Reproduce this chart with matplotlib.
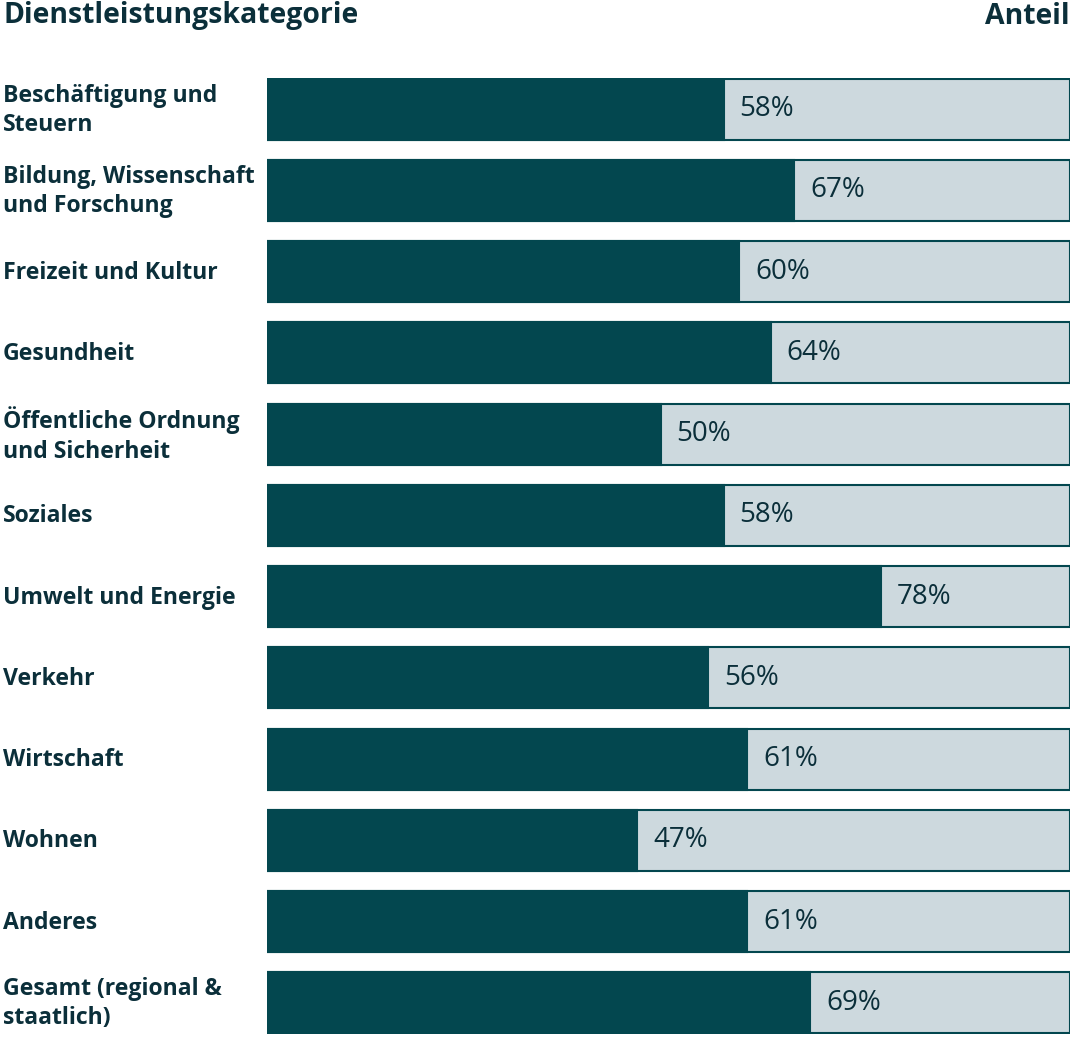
import matplotlib.pyplot as plt
import numpy as np

# Data
categories = [
    "Beschäftigung und\nSteuern",
    "Bildung, Wissenschaft\nund Forschung",
    "Freizeit und Kultur",
    "Gesundheit",
    "Öffentliche Ordnung\nund Sicherheit",
    "Soziales",
    "Umwelt und Energie",
    "Verkehr",
    "Wirtschaft",
    "Wohnen",
    "Anderes",
    "Gesamt (regional &\nstaatlich)",
]
shares = [58, 67, 60, 64, 50, 58, 78, 56, 61, 47, 61, 69]
header_left = "Dienstleistungskategorie"
header_right = "Anteil"

# Style
DARK = "#03474f"
TRACK = "#cdd9de"
TEXT = "#0b2f3a"
TRACK_MAX = 102

plt.rcParams['font.family'] = ['Open Sans', 'DejaVu Sans']

fig = plt.figure(figsize=(10.8, 10.4), dpi=100)
ax = fig.add_axes([267 / 1080, 1 - 1034 / 1040, 803 / 1080, (1034 - 78) / 1040])

y = np.arange(len(categories))
bar_h = 0.75

ax.barh(y, TRACK_MAX, height=bar_h, color=TRACK, edgecolor=DARK, linewidth=1.5, zorder=1)
ax.barh(y, shares, height=bar_h, color=DARK, edgecolor=DARK, linewidth=1.5, zorder=2)

for yi, v in zip(y, shares):
    ax.annotate(f"{v}%", (v, yi), xytext=(16, 0), textcoords="offset pixels",
                va="center", ha="left", fontsize=20, color=TEXT, zorder=3)

ax.set_xlim(0, TRACK_MAX)
ax.set_ylim(len(categories) - 1 + bar_h / 2 + 0.01, -bar_h / 2 - 0.01)
ax.axis("off")

# Category labels at left edge of figure
for yi, lab in zip(y, categories):
    ax.annotate(lab, (0, yi), xycoords=("figure fraction", "data"),
                xytext=(3, -1), textcoords="offset pixels",
                va="center", ha="left", fontsize=16.6, fontweight="bold",
                color=TEXT, linespacing=1.3)

fig.text(3 / 1080, 1 - 16 / 1040, header_left, ha="left", va="center",
         fontsize=20.4, fontweight="bold", color=TEXT)
fig.text(1070 / 1080, 1 - 16 / 1040, header_right, ha="right", va="center",
         fontsize=20.4, fontweight="bold", color=TEXT)

fig.savefig("out.png", dpi=100, facecolor="white")
